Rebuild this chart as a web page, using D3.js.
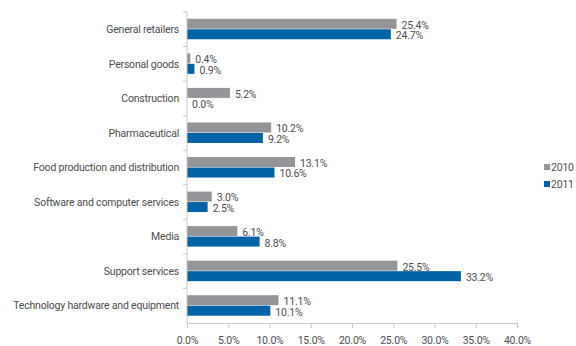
<!DOCTYPE html>
<html>
<head>
<meta charset="utf-8">
<script src="https://cdn.jsdelivr.net/npm/d3@7"></script>
<style>
  body { margin: 0; background: #fff; }
  text { font-family: Roboto, "Liberation Sans", sans-serif; fill: #4d4d4f; letter-spacing: -0.2px; }
</style>
</head>
<body>
<div id="chart"></div>
<script>
const categories = [
  "General retailers", "Personal goods", "Construction", "Pharmaceutical",
  "Food production and distribution", "Software and computer services",
  "Media", "Support services", "Technology hardware and equipment"
];
const years = ["2010", "2011"];
const values2010 = [25.4, 0.4, 5.2, 10.2, 13.1, 3.0, 6.1, 25.5, 11.1];
const values2011 = [24.7, 0.9, 0.0, 9.2, 10.6, 2.5, 8.8, 33.2, 10.1];
const xTicks = [0, 5, 10, 15, 20, 25, 30, 35, 40];
const colors = ["#939598", "#0063a6"];

let w = 576, h = 346;
let margin = {top: 12, right: 59, bottom: 23, left: 187};
let fontSize = "10.5px";

let svg = d3.select("#chart").append("svg")
  .attr("width", w).attr("height", h);

let xScale = d3.scaleLinear().domain([0, 40]).range([margin.left, w - margin.right]);
let yScale = d3.scaleBand().domain(categories).range([margin.top, h - margin.bottom]);
let subScale = d3.scaleBand().domain(years).range([yScale.bandwidth() / 2 - 10.5, yScale.bandwidth() / 2 + 10.5]);

let rows = categories.map((c, i) => ({cat: c, vals: [values2010[i], values2011[i]]}));

// bars
let groups = svg.append("g").selectAll("g")
  .data(rows)
  .join("g")
  .attr("transform", d => "translate(0," + yScale(d.cat) + ")");

groups.selectAll("rect")
  .data(d => d.vals.map((v, k) => ({year: years[k], value: v, k: k})))
  .join("rect")
  .attr("x", xScale(0))
  .attr("y", d => subScale(d.year))
  .attr("width", d => xScale(d.value) - xScale(0))
  .attr("height", subScale.bandwidth() - 0.5)
  .attr("fill", d => colors[d.k]);

groups.selectAll("text.val")
  .data(d => d.vals.map((v, k) => ({year: years[k], value: v, k: k})))
  .join("text")
  .attr("class", "val")
  .attr("x", d => xScale(d.value) + 5)
  .attr("y", d => subScale(d.year) + subScale.bandwidth() / 2 + 1)
  .attr("dy", "0.35em")
  .attr("font-size", fontSize)
  .text(d => d.value.toFixed(1) + "%");

// y axis
let yaxis = svg.append("g").attr("transform", "translate(" + margin.left + ",0)");
yaxis.append("line")
  .attr("x1", 0).attr("x2", 0)
  .attr("y1", margin.top).attr("y2", h - margin.bottom)
  .attr("stroke", "#c8c8c8");
yaxis.selectAll("line.tick")
  .data(categories)
  .join("line")
  .attr("class", "tick")
  .attr("x1", -4).attr("x2", 0)
  .attr("y1", d => yScale(d)).attr("y2", d => yScale(d))
  .attr("stroke", "#c8c8c8");
yaxis.selectAll("text")
  .data(categories)
  .join("text")
  .attr("x", -8)
  .attr("y", d => yScale(d) + yScale.bandwidth() / 2)
  .attr("dy", "0.35em")
  .attr("text-anchor", "end")
  .attr("font-size", fontSize)
  .text(d => d);

// x axis
let xaxis = svg.append("g")
  .attr("transform", "translate(0," + (h - margin.bottom) + ")")
  .call(d3.axisBottom(xScale).tickValues(xTicks).tickSize(5).tickSizeOuter(0)
    .tickFormat(d => d.toFixed(1) + "%"));
xaxis.select(".domain").attr("stroke", "#c8c8c8");
xaxis.selectAll(".tick line").attr("stroke", "#c8c8c8");
xaxis.selectAll(".tick text")
  .attr("font-size", fontSize)
  .attr("font-family", "Roboto, 'Liberation Sans', sans-serif")
  .attr("fill", "#4d4d4f")
  .attr("dy", "1.2em");

// legend
let legend = svg.append("g").attr("transform", "translate(544,162)");
years.forEach((y, k) => {
  legend.append("rect")
    .attr("x", 0).attr("y", k * 17 + 2)
    .attr("width", 6).attr("height", 6)
    .attr("fill", colors[k]);
  legend.append("text")
    .attr("x", 7).attr("y", k * 17 + 5)
    .attr("dy", "0.35em")
    .attr("font-size", fontSize)
    .text(y);
});
</script>
</body>
</html>
